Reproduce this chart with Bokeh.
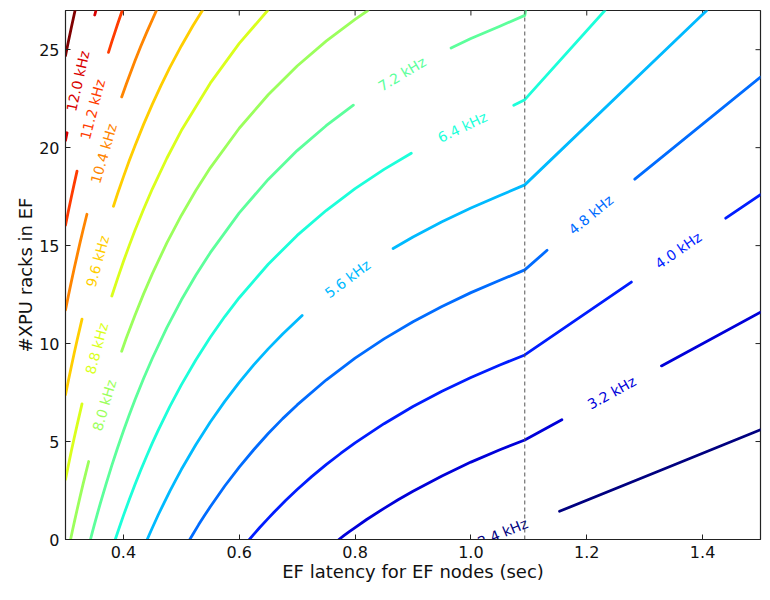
from bokeh.plotting import figure
from bokeh.models import ColumnDataSource, Range1d, Span, FixedTicker
from bokeh.core.properties import value
from bokeh.embed import file_html
from bokeh.resources import INLINE

N = float("nan")

# ---- data -------------------------------------------------------------
levels = [2.4, 3.2, 4.0, 4.8, 5.6, 6.4, 7.2, 8.0, 8.8, 9.6, 10.4, 11.2, 12.0, 12.8]
level_colors = ["#000080", "#0000D9", "#001DFF", "#006CFF", "#00BAFF", "#1CFFDA", "#5CFF9B",
                "#9BFF5C", "#DAFF1C", "#FFCE00", "#FF8500", "#FF3C00", "#D90000", "#800000"]

kink_latency = 1.093  # dashed vertical marker (sec)

# contour lines (x = EF latency in sec, y = #XPU racks); NaN = gap left for the inline label
c24_x = [1.153, 1.33, 1.5]
c24_y = [1.44, 3.56, 5.60]
c32_x = [0.772, 0.78, 0.79, 0.80, 0.82, 0.85, 0.875, 0.90, 0.95, 1.00, 1.05, 1.093, 1.157, N, 1.329, 1.5]
c32_y = [0.0, 0.18, 0.40, 0.61, 1.02, 1.59, 2.04, 2.46, 3.24, 3.95, 4.58, 5.08, 6.11, N, 8.86, 11.60]
c40_x = [0.6175, 0.625, 0.635, 0.65, 0.66, 0.68, 0.70, 0.725, 0.75, 0.775, 0.80, 0.85, 0.90, 0.95,
         1.00, 1.05, 1.093, 1.277, N, 1.44, 1.5]
c40_y = [0.0, 0.26, 0.60, 1.08, 1.39, 1.99, 2.55, 3.21, 3.82, 4.39, 4.93, 5.91, 6.79, 7.57,
         8.27, 8.91, 9.42, 13.14, N, 16.40, 17.60]
c48_x = [0.5146, 0.52, 0.53, 0.54, 0.55, 0.575, 0.60, 0.625, 0.65, 0.675, 0.70, 0.75, 0.80, 0.85,
         0.90, 0.95, 1.00, 1.05, 1.093, 1.1315, N, 1.283, 1.5]
c48_y = [0.0, 0.27, 0.76, 1.22, 1.67, 2.73, 3.69, 4.58, 5.41, 6.17, 6.87, 8.14, 9.26, 10.24,
         11.11, 11.89, 12.60, 13.23, 13.76, 14.76, N, 18.39, 23.60]
c56_x = [0.4411, 0.445, 0.45, 0.46, 0.47, 0.48, 0.49, 0.50, 0.525, 0.55, 0.575, 0.60, 0.625, 0.65,
         0.675, 0.7086, N, 0.8657, 0.90, 0.95, 1.00, 1.05, 1.093, 1.4071]
c56_y = [0.0, 0.27, 0.60, 1.25, 1.86, 2.46, 3.02, 3.57, 4.84, 6.00, 7.05, 8.02, 8.91, 9.73,
         10.49, 11.43, N, 14.85, 15.44, 16.22, 16.92, 17.56, 18.10, 27.0]
c64_x = [0.3859, 0.39, 0.395, 0.40, 0.41, 0.42, 0.43, 0.44, 0.45, 0.46, 0.48, 0.50, 0.525, 0.55,
         0.575, 0.60, 0.65, 0.70, 0.75, 0.80, 0.85, 0.897, N, 1.074, 1.093, 1.2313]
c64_y = [0.0, 0.36, 0.79, 1.22, 2.03, 2.81, 3.55, 4.25, 4.93, 5.57, 6.78, 7.89, 9.16, 10.32,
         11.38, 12.34, 14.05, 15.52, 16.79, 17.91, 18.89, 19.71, N, 22.16, 22.45, 27.0]
c72_x = [0.3431, 0.3465, 0.35, 0.355, 0.36, 0.37, 0.38, 0.39, 0.40, 0.41, 0.42, 0.435, 0.45, 0.475,
         0.50, 0.525, 0.55, 0.60, 0.65, 0.70, 0.75, 0.797, N, 0.9657, 1.00, 1.05, 1.093, 1.0944]
c72_y = [0.0, 0.39, 0.77, 1.31, 1.83, 2.83, 3.78, 4.68, 5.54, 6.35, 7.13, 8.23, 9.25, 10.81,
         12.22, 13.49, 14.64, 16.67, 18.38, 19.85, 21.12, 22.17, N, 25.09, 25.57, 26.20, 26.75, 27.0]
c80_x = [0.30875, 0.3125, 0.316, 0.32, 0.325, 0.33, 0.335, 0.34, N, 0.397, 0.405, 0.42, 0.435, 0.45,
         0.475, 0.50, 0.525, 0.55, 0.60, 0.65, 0.70, 0.75, 0.80, 0.822]
c80_y = [0.0, 0.52, 0.99, 1.52, 2.16, 2.79, 3.39, 3.98, N, 9.61, 10.28, 11.45, 12.55, 13.57,
         15.14, 16.54, 17.81, 18.97, 20.99, 22.70, 24.17, 25.44, 26.55, 27.0]
c88_x = [0.30, 0.305, 0.31, 0.315, 0.32, 0.3285, N, 0.38, 0.39, 0.40, 0.41, 0.42, 0.435, 0.45,
         0.475, 0.50, 0.55, 0.60, 0.649]
c88_y = [3.06, 3.79, 4.50, 5.18, 5.84, 6.92, N, 12.43, 13.33, 14.19, 15.00, 15.78, 16.87, 17.90,
         19.46, 20.87, 23.29, 25.32, 27.0]
c96_x = [0.30, 0.305, 0.31, 0.315, 0.32, 0.3285, N, 0.3828, 0.39, 0.40, 0.41, 0.42, 0.435, 0.45,
         0.465, 0.48, 0.50, 0.52, 0.5364]
c96_y = [7.39, 8.12, 8.82, 9.51, 10.17, 11.25, N, 17.01, 17.66, 18.51, 19.33, 20.10, 21.20, 22.22,
         23.18, 24.08, 25.19, 26.22, 27.0]
c104_x = [0.30, 0.305, 0.31, 0.315, 0.32, 0.325, 0.33, 0.337, N, 0.397, 0.405, 0.42, 0.43, 0.44, 0.457]
c104_y = [11.71, 12.44, 13.15, 13.83, 14.49, 15.14, 15.76, 16.60, N, 22.59, 23.25, 24.43, 25.17, 25.87, 27.0]
c112_x = [0.30, 0.305, 0.31, 0.315, 0.3199, N, 0.3742, 0.38, 0.385, 0.39, 0.398]
c112_y = [16.04, 16.77, 17.47, 18.15, 18.80, N, 24.86, 25.41, 25.86, 26.31, 27.0]
c120_x = [0.30, 0.3027, N, 0.3505, 0.3526]
c120_y = [20.36, 20.76, N, 26.77, 27.0]
c128_x = [0.30, 0.305, 0.31, 0.3165]
c128_y = [24.69, 25.42, 26.12, 27.0]

contour_xs = [c24_x, c32_x, c40_x, c48_x, c56_x, c64_x, c72_x, c80_x, c88_x, c96_x, c104_x, c112_x, c120_x, c128_x]
contour_ys = [c24_y, c32_y, c40_y, c48_y, c56_y, c64_y, c72_y, c80_y, c88_y, c96_y, c104_y, c112_y, c120_y, c128_y]

label_text = ["2.4 kHz", "3.2 kHz", "4.0 kHz", "4.8 kHz", "5.6 kHz", "6.4 kHz", "7.2 kHz",
              "8.0 kHz", "8.8 kHz", "9.6 kHz", "10.4 kHz", "11.2 kHz", "12.0 kHz"]
label_x = [1.055, 1.243, 1.358, 1.207, 0.787, 0.9855, 0.881, 0.367, 0.354, 0.3555, 0.366, 0.347, 0.3215]
label_y = [0.35, 7.49, 14.76, 16.57, 13.30, 21.05, 23.76, 6.85, 9.75, 14.2, 19.7, 21.95, 23.4]
label_angle = [22.5, 28.9, 34.6, 39.6, 36.7, 25.4, 30.7, 73.6, 74.8, 74.7, 73.7, 75.4, 77.4]

x_ticks = [0.4, 0.6, 0.8, 1.0, 1.2, 1.4]
x_tick_labels = ["0.4", "0.6", "0.8", "1.0", "1.2", "1.4"]
y_ticks = [0, 5, 10, 15, 20, 25]
y_tick_labels = ["0", "5", "10", "15", "20", "25"]
x_range = (0.3, 1.5)
y_range = (0, 27)

# ---- figure ------------------------------------------------------------
FONT = "DejaVu Sans"
SPINE = "#222222"

p = figure(width=762, height=584, output_backend="svg", toolbar_location=None,
           x_range=Range1d(*x_range), y_range=Range1d(*y_range),
           min_border_left=65, min_border_right=2, min_border_top=10, min_border_bottom=30)
p.background_fill_color = "white"
p.border_fill_color = "white"
p.outline_line_color = SPINE
p.outline_line_width = 1.2
p.xgrid.visible = False
p.ygrid.visible = False

p.xaxis.ticker = FixedTicker(ticks=x_ticks)
p.yaxis.ticker = FixedTicker(ticks=y_ticks)
p.xaxis.major_label_overrides = dict(zip(x_ticks, x_tick_labels))
p.yaxis.major_label_overrides = dict(zip(y_ticks, y_tick_labels))
p.xaxis.axis_label = "EF latency for EF nodes (sec)"
p.yaxis.axis_label = "#XPU racks in EF"

for ax in p.axis:
    ax.axis_line_color = SPINE
    ax.major_tick_in = 5
    ax.major_tick_out = 0
    ax.major_tick_line_color = SPINE
    ax.minor_tick_line_color = None
    ax.major_label_text_font = FONT
    ax.major_label_text_font_size = "16px"
    ax.major_label_text_color = "#111111"
    ax.axis_label_text_font = FONT
    ax.axis_label_text_font_size = "18px"
    ax.axis_label_text_font_style = "normal"
    ax.axis_label_text_color = "#111111"
    ax.major_label_standoff = 6
    ax.axis_label_standoff = 0

# tick marks on the top and right spines (inward, no labels)
p.ray(x=x_ticks, y=[y_range[1]] * len(x_ticks), length=5, length_units="screen",
      angle=-90, angle_units="deg", line_color=SPINE, line_width=1)
p.ray(x=[x_range[1]] * len(y_ticks), y=y_ticks, length=5, length_units="screen",
      angle=180, angle_units="deg", line_color=SPINE, line_width=1)

for xs, ys, col in zip(contour_xs, contour_ys, level_colors):
    p.line(x=xs, y=ys, line_color=col, line_width=2.8, line_join="round", line_cap="round")

p.add_layout(Span(location=kink_latency, dimension="height", line_color="#555555",
                  line_width=1, line_dash="4 3"))

lab_src = ColumnDataSource(dict(x=label_x, y=label_y, text=label_text, angle=label_angle,
                                color=level_colors[:len(label_text)]))
p.text(x="x", y="y", text="text", angle="angle", angle_units="deg", source=lab_src,
       text_color="color", text_font=value(FONT), text_font_size=value("14px"),
       text_align="center", text_baseline="middle")

open("out.html", "w").write(file_html(p, INLINE))
